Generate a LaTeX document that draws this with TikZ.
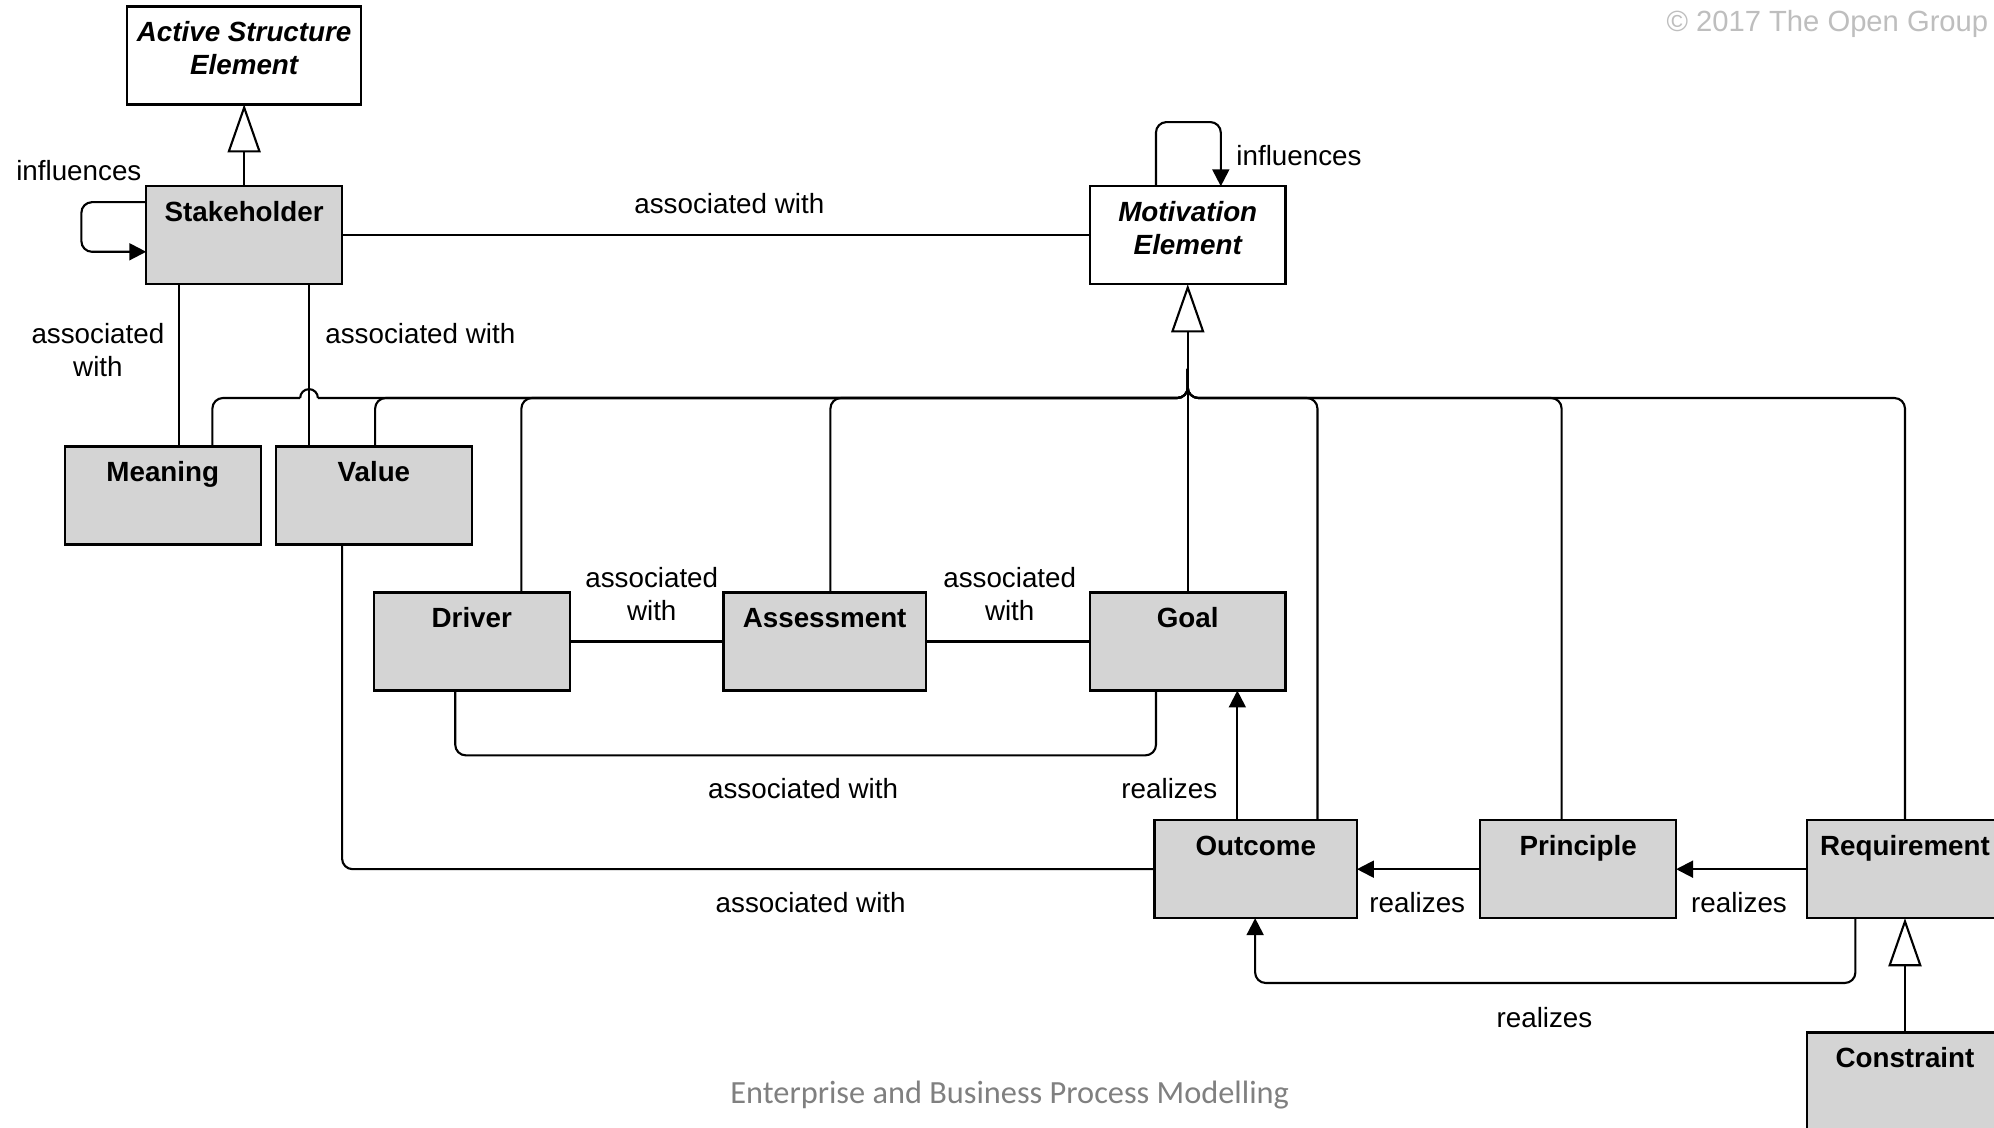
\documentclass[tikz,border=0pt]{standalone}
\usepackage{fontspec}
\setmainfont{Liberation Sans}
\newfontfamily\footfont{Carlito}
\usetikzlibrary{arrows.meta}
\definecolor{boxgray}{RGB}{212,212,212}
\definecolor{copygray}{RGB}{190,190,190}
\definecolor{footgray}{RGB}{128,128,128}
\newcommand\lblfont{\fontsize{7.9}{9.4}\selectfont}
\newcommand\ttlfont{\fontsize{7.9}{9.4}\selectfont\bfseries}
\newcommand\ittlfont{\fontsize{7.9}{9.4}\selectfont\bfseries\itshape}
\begin{document}
\begin{tikzpicture}[x=0.012717cm, y=-0.012717cm,
  elem/.style={draw, line width=0.7pt, fill=boxgray, minimum width=55.72pt, minimum height=27.86pt, inner sep=0pt, outer sep=0pt},
  abstr/.style={elem, fill=white},
  widebox/.style={minimum width=57.53pt},
  ttl/.style={anchor=base, font=\ttlfont, inner sep=0pt, yshift=-9.95pt},
  ittl/.style={anchor=base, font=\ittlfont, inner sep=0pt, yshift=-9.95pt},
  ittltwo/.style={anchor=base, font=\ittlfont, inner sep=0pt, yshift=-19.36pt},
  lbl/.style={font=\lblfont, align=center, inner sep=0pt},
  conn/.style={line width=0.6pt, rounded corners=3pt},
  gen/.style={line width=0.6pt, -{Triangle[open, length=13.7pt, width=9.4pt, line width=0.6pt]}},
  real/.style={line width=0.6pt, rounded corners=3pt, -{Triangle[length=4.8pt, width=4.8pt]}}
]
\useasboundingbox (0,0) rectangle (1568,887);
\fill[white] (0,0) rectangle (1568,887);

% boxes
\node[abstr, minimum width=66.58pt, label={[ittl]north:Active Structure}, label={[ittltwo]north:Element}] (ase) at (192,43.5) {};
\node[elem, label={[ttl]north:Stakeholder}] (sh) at (192,185) {};
\node[abstr, label={[ittl]north:Motivation}, label={[ittltwo]north:Element}] (me) at (934,185) {};
\node[elem, label={[ttl]north:Meaning}] (mean) at (128,389.5) {};
\node[elem, label={[ttl]north:Value}] (val) at (294,389.5) {};
\node[elem, label={[ttl]north:Driver}] (drv) at (371,504.5) {};
\node[elem, widebox, label={[ttl]north:Assessment}] (ass) at (648.5,504.5) {};
\node[elem, label={[ttl]north:Goal}] (goal) at (934,504.5) {};
\node[elem, widebox, label={[ttl]north:Outcome}] (out) at (987.5,683.5) {};
\node[elem, label={[ttl]north:Principle}] (pri) at (1241,683.5) {};
\node[elem, label={[ttl]north:Requirement}] (req) at (1498,683.5) {};
\node[elem, label={[ttl]north:Constraint}] (con) at (1498,850.5) {};

% generalizations
\draw[gen] (sh.north) -- (ase.south);
\draw[gen] (goal.north) -- (me.south);
\draw[gen] (con.north) -- (req.south);

% motivation bus
\coordinate (jtop) at (934,290);
\coordinate (junc) at (934,313);
\draw[conn] (jtop) -- (junc) -- (250,313);
\draw[line width=0.6pt] (250,313) arc[start angle=0, end angle=-180, radius=7];
\draw[conn] (236,313) -| (mean.north -| 167,0);
\draw[conn] (jtop) -- (junc) -| (val.north -| 295,0);
\draw[conn] (jtop) -- (junc) -| (drv.north -| 410,0);
\draw[conn] (jtop) -- (junc) -| (ass.north -| 653,0);
\draw[conn] (jtop) -- (junc) -| (out.north -| 1036,0);
\draw[conn] (jtop) -- (junc) -| (pri.north -| 1228,0);
\draw[conn] (jtop) -- (junc) -| (req.north -| 1498,0);

% self loops
\draw[real] (sh.west |- 0,159) -- (64,159) -- (64,198) -- (sh.west |- 0,198);
\draw[real] (me.north -| 909,0) -- (909,96) -- (960,96) -- (me.north -| 960,0);

% associations
\draw[conn] (sh.east) -- (me.west);
\draw[conn] (sh.south -| 141,0) -- (mean.north -| 141,0);
\draw[conn] (sh.south -| 243,0) -- (val.north -| 243,0);
\draw[conn] (drv.east) -- (ass.west);
\draw[conn] (ass.east) -- (goal.west);
\draw[conn] (drv.south -| 358,0) |- (634,594) -| (goal.south -| 909,0);
\draw[conn] (val.south -| 269,0) |- (out.west);

% realizations
\draw[real] (out.north -| 973,0) -- (goal.south -| 973,0);
\draw[real] (pri.west) -- (out.east);
\draw[real] (req.west) -- (pri.east);
\draw[real] (req.south -| 1459,0) |- (1220,773) -| (out.south -| 987,0);

% labels
\node[lbl] (l1) at (62,134) {influences};
\node[lbl] (l2) at (573.5,160) {associated with};
\node[lbl] (l3) at (1021.5,122) {influences};
\node[lbl] (l4) at (77,275) {associated\\with};
\node[lbl] (l5) at (330.5,262) {associated with};
\node[lbl] (l6) at (512.5,467) {associated\\with};
\node[lbl] (l7) at (794,467) {associated\\with};
\node[lbl] (l8) at (631.5,620) {associated with};
\node[lbl] (l9) at (919.5,620) {realizes};
\node[lbl] (l10) at (637.5,710) {associated with};
\node[lbl] (l11) at (1114.5,710) {realizes};
\node[lbl] (l12) at (1367.5,710) {realizes};
\node[lbl] (l13) at (1214.5,800) {realizes};

% footer and copyright
\node[anchor=east, inner sep=0pt, font=\fontsize{8.3}{10}\selectfont, text=copygray] (copy) at (1564,19) {© 2017 The Open Group};
\node[inner sep=0pt, font=\footfont\fontsize{9.2}{11}\selectfont, text=footgray] (foot) at (794,861) {Enterprise and Business Process Modelling};
\end{tikzpicture}
\end{document}
